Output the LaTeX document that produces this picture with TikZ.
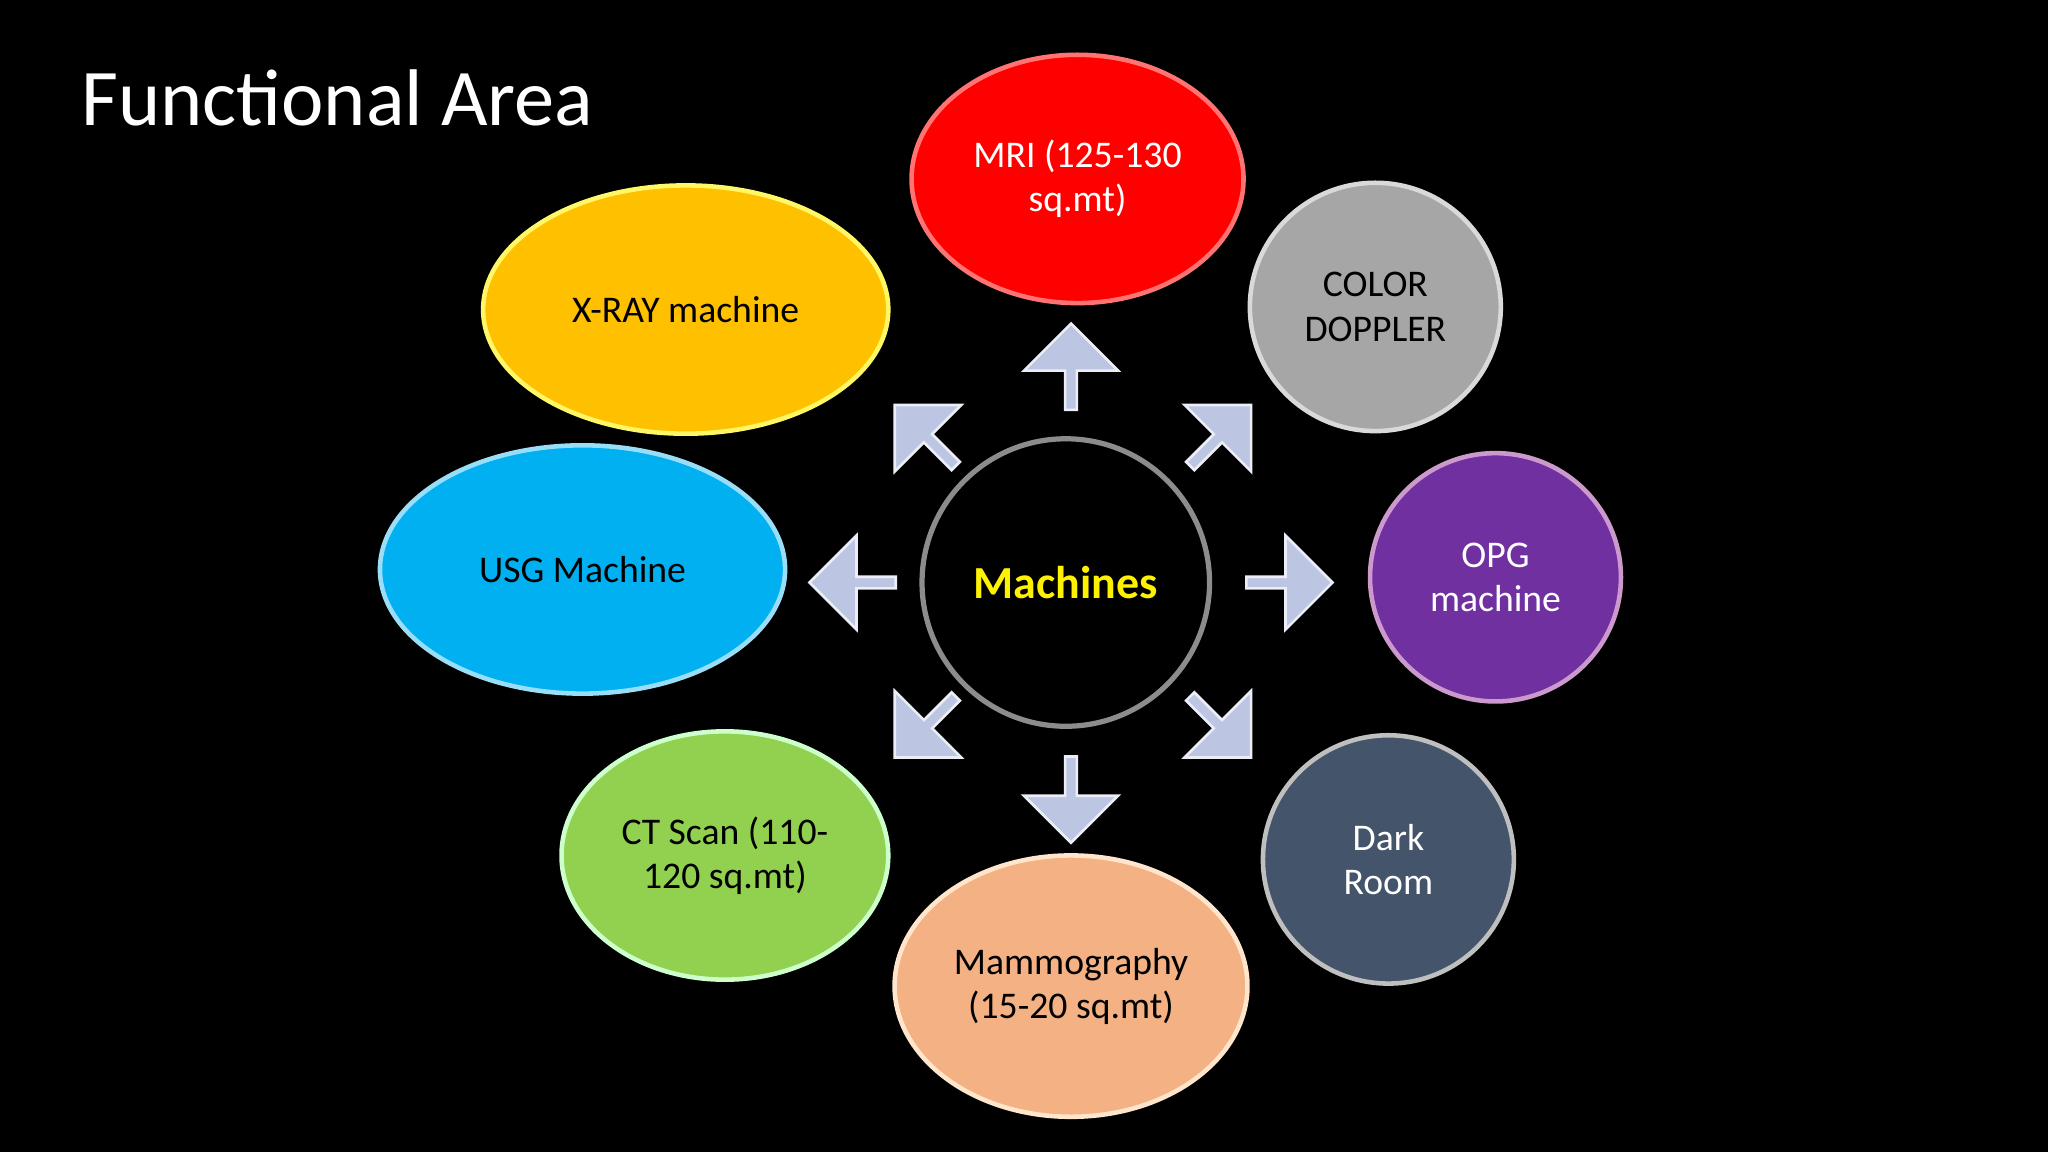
\documentclass[tikz,border=0pt]{standalone}
\usepackage{fontspec}
\setmainfont{Carlito}
\usetikzlibrary{shapes.geometric,shapes.arrows}
\definecolor{arr}{HTML}{BCC6E2}
\begin{document}
\begin{tikzpicture}[x=0.01cm,y=-0.01cm,
  blob/.style={ellipse,inner sep=0pt,align=center,font=\fontsize{8.2}{9.6}\selectfont,line width=0.035cm},
  barr/.style={single arrow,fill=arr,draw=white!70!arr,line width=0.02cm,minimum height=0.66cm,minimum width=0.72cm,single arrow head extend=0.1cm,inner sep=0pt,shape border uses incircle}]
\useasboundingbox[fill=black] (0,0) rectangle (1568,882);
\node[anchor=west,text=white,font=\fontsize{17.5}{20}\selectfont] (title) at (50,75) {Functional Area};
\node[blob,fill=red,draw=red!55!white,text=white,minimum width=2.54cm,minimum height=1.9cm] (mri) at (825,137) {MRI (125-130\\sq.mt)};
\node[blob,fill=black!35,draw=black!15,minimum width=1.92cm,minimum height=1.9cm] (dop) at (1053,235) {COLOR\\DOPPLER};
\node[blob,fill={rgb,255:red,112;green,48;blue,160},draw=violet!40!white,text=white,minimum width=1.92cm,minimum height=1.9cm] (opg) at (1145,442) {OPG\\machine};
\node[blob,fill={rgb,255:red,68;green,84;blue,106},draw=black!25,text=white,minimum width=1.92cm,minimum height=1.9cm] (dark) at (1063,658) {Dark\\Room};
\node[blob,fill={rgb,255:red,244;green,177;blue,131},draw=orange!20!white,minimum width=2.7cm,minimum height=2cm] (mam) at (820,755) {Mammography\\(15-20 sq.mt)};
\node[blob,fill={rgb,255:red,146;green,208;blue,80},draw=green!20!white,minimum width=2.5cm,minimum height=1.9cm] (ct) at (555,655) {CT Scan (110-\\120 sq.mt)};
\node[blob,fill={rgb,255:red,0;green,176;blue,240},draw=cyan!40!white,minimum width=3.1cm,minimum height=1.9cm] (usg) at (446,436) {USG Machine};
\node[blob,fill={rgb,255:red,255;green,192;blue,0},draw=yellow!60!white,minimum width=3.1cm,minimum height=1.9cm] (xray) at (525,237) {X-RAY machine};
\node[circle,fill=black,draw=black!45,line width=0.04cm,minimum size=2.2cm,text=yellow,font=\bfseries\fontsize{10}{12}\selectfont] (mach) at (816,446) {Machines};
\node[barr,rotate=90] (au) at (820,283) {};
\node[barr,rotate=-90] (ad) at (820,610) {};
\node[barr,rotate=180] (al) at (655,446) {};
\node[barr] (ar) at (985,446) {};
\node[barr,rotate=135] (aul) at (710,335) {};
\node[barr,rotate=45] (aur) at (933,335) {};
\node[barr,rotate=-135] (adl) at (710,555) {};
\node[barr,rotate=-45] (adr) at (933,555) {};
\end{tikzpicture}
\end{document}
